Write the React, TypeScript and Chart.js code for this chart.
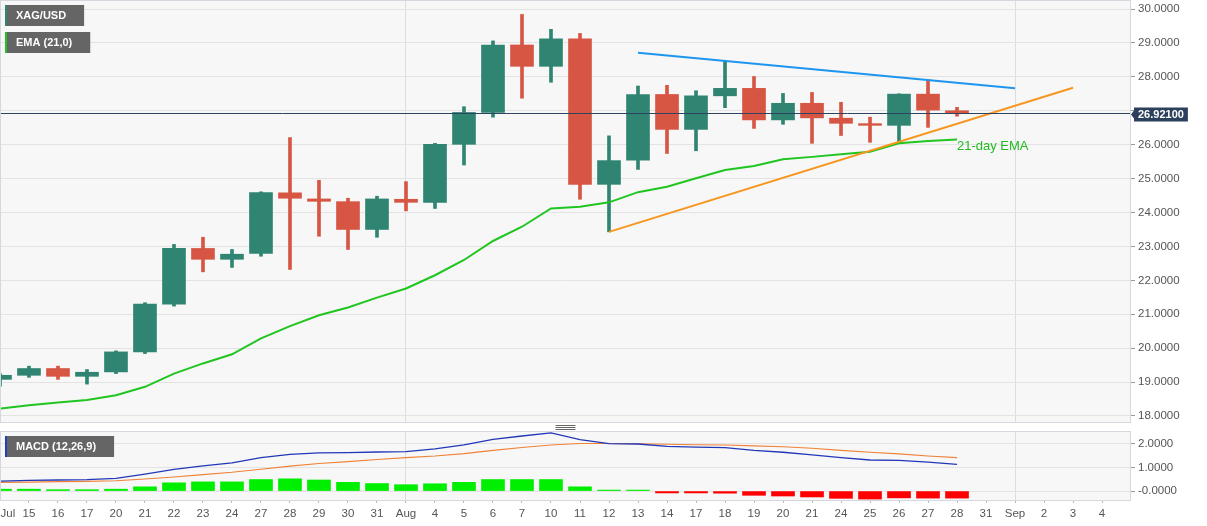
import React, { useEffect, useRef } from 'react';
import { Chart, registerables } from 'chart.js';

Chart.register(...registerables);

// ---------- data ----------
const DATE_LABELS = ['Jul', '15', '16', '17', '20', '21', '22', '23', '24', '27', '28', '29', '30', '31', 'Aug', '4', '5', '6', '7', '10', '11', '12', '13', '14', '17', '18', '19', '20', '21', '24', '25', '26', '27', '28', '31', 'Sep', '2', '3', '4'];

const OPEN = [19.08, 19.2, 19.4, 19.17, 19.3, 19.89, 21.3, 22.94, 22.62, 22.79, 24.58, 24.4, 24.32, 23.5, 24.39, 24.3, 26.01, 26.95, 28.94, 28.31, 29.12, 24.83, 25.54, 27.48, 26.45, 27.44, 27.66, 26.73, 27.22, 26.78, 26.62, 26.57, 27.49, 27.0];
const HIGH = [19.25, 19.47, 19.47, 19.37, 19.92, 21.34, 23.06, 23.27, 22.91, 24.61, 26.21, 24.95, 24.42, 24.48, 24.91, 26.04, 27.12, 29.06, 29.84, 29.4, 29.28, 26.26, 27.73, 27.75, 27.59, 28.47, 28.01, 27.51, 27.54, 27.25, 26.81, 27.5, 27.91, 27.1];
const LOW = [18.88, 19.14, 19.08, 18.94, 19.25, 19.84, 21.24, 22.25, 22.38, 22.71, 22.32, 23.3, 22.91, 23.27, 24.05, 24.12, 25.4, 26.81, 27.37, 27.84, 24.39, 23.43, 25.27, 25.74, 25.82, 27.09, 26.48, 26.6, 26.04, 26.27, 26.07, 26.09, 26.51, 26.84];
const CLOSE = [19.2, 19.4, 19.17, 19.29, 19.89, 21.3, 22.94, 22.62, 22.77, 24.59, 24.42, 24.33, 23.5, 24.4, 24.3, 26.01, 26.95, 28.94, 28.31, 29.12, 24.83, 25.53, 27.48, 26.45, 27.44, 27.66, 26.73, 27.22, 26.79, 26.63, 26.57, 27.49, 27.02, 26.921];
const EMA21 = [18.22, 18.32, 18.4, 18.47, 18.61, 18.86, 19.25, 19.55, 19.82, 20.29, 20.65, 20.97, 21.2, 21.49, 21.76, 22.15, 22.6, 23.16, 23.58, 24.12, 24.17, 24.3, 24.6, 24.76, 25.01, 25.25, 25.37, 25.57, 25.64, 25.72, 25.79, 26.04, 26.11, 26.15];

const RESISTANCE_X = [22, 35];
const RESISTANCE_Y = [28.71, 27.66];
const SUPPORT_X = [21, 37];
const SUPPORT_Y = [23.43, 27.68];

const PRICE_TICKS = [18, 19, 20, 21, 22, 23, 24, 25, 26, 27, 28, 29, 30];

const MACD_LINE = [0.42, 0.45, 0.47, 0.49, 0.54, 0.72, 0.92, 1.07, 1.2, 1.42, 1.56, 1.62, 1.63, 1.66, 1.68, 1.79, 1.96, 2.2, 2.34, 2.47, 2.19, 2.02, 2.0, 1.9, 1.87, 1.85, 1.73, 1.65, 1.54, 1.42, 1.32, 1.3, 1.23, 1.13];
const SIGNAL_LINE = [0.37, 0.38, 0.4, 0.41, 0.44, 0.51, 0.6, 0.7, 0.8, 0.93, 1.06, 1.17, 1.25, 1.34, 1.42, 1.49, 1.59, 1.73, 1.85, 1.96, 2.02, 2.02, 2.01, 1.99, 1.97, 1.96, 1.92, 1.88, 1.82, 1.73, 1.65, 1.58, 1.49, 1.42];
const MACD_HIST = [0.08, 0.08, 0.06, 0.06, 0.08, 0.18, 0.35, 0.39, 0.39, 0.49, 0.52, 0.47, 0.37, 0.32, 0.27, 0.31, 0.37, 0.49, 0.49, 0.49, 0.18, 0.01, 0.01, -0.08, -0.08, -0.09, -0.18, -0.21, -0.25, -0.31, -0.34, -0.29, -0.3, -0.3];
const MACD_TICKS = [0, 1, 2];
const MACD_TICK_LABELS = ['-0.0000', '1.0000', '2.0000'];

const SYMBOL_TAG = 'XAG/USD';
const EMA_TAG = 'EMA (21,0)';
const MACD_TAG = 'MACD (12,26,9)';
const EMA_NOTE = '21-day EMA';

// ---------- style ----------
const FONT = '"Liberation Sans", Arial, Helvetica, sans-serif';
const UP = '#2f8571';
const DOWN = '#d65643';
const PLOT_BG = '#f7f7f7';
const LAST_PRICE = CLOSE[CLOSE.length - 1];
const X_MIN = 0.035;
const X_MAX = 38.965;

const isMonth = (i: number) => {
  const l = DATE_LABELS[Math.round(i)];
  return l !== undefined && isNaN(Number(l));
};

function xScale(withTicks: boolean): any {
  return {
    type: 'linear',
    min: X_MIN,
    max: X_MAX,
    offset: false,
    bounds: 'data',
    afterBuildTicks: (s: any) => {
      s.ticks = DATE_LABELS.map((_, i) => ({ value: i }));
    },
    afterFit: (s: any) => {
      s.height = withTicks ? 26 : 0;
      s.paddingLeft = 0;
      s.paddingRight = 0;
    },
    ticks: { display: false, autoSkip: false },
    grid: {
      offset: false,
      color: (c: any) => (c.tick && isMonth(c.tick.value) ? '#dddddd' : 'rgba(0,0,0,0)'),
      lineWidth: 1,
      drawTicks: withTicks,
      tickLength: 3,
      tickColor: '#b8b8b8',
    },
    border: { display: false },
  };
}

function yScale(min: number, max: number, values: number[], label: (v: number, i: number) => string): any {
  return {
    position: 'right',
    min,
    max,
    bounds: 'data',
    afterBuildTicks: (s: any) => {
      s.ticks = values.map((v) => ({ value: v }));
    },
    afterFit: (s: any) => {
      s.width = 77;
      s.paddingTop = 0;
      s.paddingBottom = 0;
    },
    ticks: {
      autoSkip: false,
      callback: (v: any, i: number) => label(Number(v), i),
      color: '#555555',
      font: { family: FONT, size: 11.5 },
      padding: 3,
    },
    grid: { color: '#e3e3e3', lineWidth: 1, tickLength: 5, tickColor: '#9a9a9a' },
    border: { color: '#c9c9c9' },
  };
}

function drawTag(ctx: CanvasRenderingContext2D, x: number, y: number, text: string, accent: string) {
  ctx.save();
  ctx.font = 'bold 11px ' + FONT;
  const w = ctx.measureText(text).width + 29;
  const h = 21;
  ctx.fillStyle = '#656565';
  ctx.fillRect(x, y, w, h);
  ctx.fillStyle = accent;
  ctx.fillRect(x, y, 2, h);
  ctx.fillStyle = '#ffffff';
  ctx.textAlign = 'left';
  ctx.textBaseline = 'middle';
  ctx.fillText(text, x + 11, y + h / 2 + 0.5);
  ctx.restore();
}

function paintBackground(chart: any) {
  const { ctx, chartArea: a, width, height } = chart;
  ctx.save();
  ctx.fillStyle = '#ffffff';
  ctx.fillRect(0, 0, width, height);
  ctx.fillStyle = PLOT_BG;
  ctx.fillRect(a.left, a.top, a.right - a.left, a.bottom - a.top);
  ctx.restore();
}

function paintBorder(chart: any) {
  const { ctx, chartArea: a } = chart;
  ctx.save();
  ctx.strokeStyle = '#d5d7df';
  ctx.lineWidth = 1;
  ctx.strokeRect(a.left - 0.5, a.top - 0.5, a.right - a.left + 1, a.bottom - a.top + 1);
  ctx.restore();
}

const mainDecor = {
  id: 'mainDecor',
  beforeDraw: paintBackground,
  afterDatasetsDraw(chart: any) {
    const { ctx, chartArea: a, scales } = chart;
    const y = Math.round(scales.y.getPixelForValue(LAST_PRICE)) + 0.5;
    ctx.save();
    ctx.strokeStyle = '#2e4262';
    ctx.lineWidth = 1;
    ctx.beginPath();
    ctx.moveTo(0, y);
    ctx.lineTo(a.right, y);
    ctx.stroke();
    ctx.restore();
  },
  afterDraw(chart: any) {
    const { ctx, chartArea: a, scales } = chart;
    paintBorder(chart);
    drawTag(ctx, 5, 5, SYMBOL_TAG, UP);
    drawTag(ctx, 5, 32, EMA_TAG, '#22c322');

    // last price label
    const y = Math.round(scales.y.getPixelForValue(LAST_PRICE)) + 0.5;
    const text = LAST_PRICE.toFixed(5);
    ctx.save();
    ctx.font = 'bold 11px ' + FONT;
    const tw = ctx.measureText(text).width;
    const bx = a.right + 4;
    const bw = tw + 8;
    const bh = 14;
    const by = y + 1 - bh / 2;
    ctx.fillStyle = '#2c405e';
    ctx.beginPath();
    ctx.moveTo(a.right + 1, y + 1);
    ctx.lineTo(bx, by + 3);
    ctx.lineTo(bx, by + bh - 3);
    ctx.closePath();
    ctx.fill();
    ctx.fillRect(bx, by, bw, bh);
    ctx.fillStyle = '#ffffff';
    ctx.textAlign = 'left';
    ctx.textBaseline = 'middle';
    ctx.fillText(text, bx + 4, by + bh / 2 + 0.5);
    ctx.restore();

    // EMA annotation
    const li = EMA21.length - 1;
    const ex = scales.x.getPixelForValue(li);
    const ey = scales.y.getPixelForValue(EMA21[li]) + 7;
    ctx.save();
    ctx.font = '13px ' + FONT;
    ctx.fillStyle = '#22bb22';
    ctx.textAlign = 'left';
    ctx.textBaseline = 'middle';
    ctx.fillText(EMA_NOTE, ex, ey);
    ctx.restore();
  },
};

const macdDecor = {
  id: 'macdDecor',
  beforeDraw: paintBackground,
  afterDraw(chart: any) {
    const { ctx, chartArea: a, scales } = chart;
    paintBorder(chart);
    drawTag(ctx, 5, a.top + 4, MACD_TAG, '#1f3fbf');

    // panel grip
    const cx = (a.left + a.right) / 2;
    ctx.save();
    ctx.strokeStyle = '#666666';
    ctx.lineWidth = 1;
    for (let k = 0; k < 3; k++) {
      const gy = a.top - 7 + 2 * k + 0.5;
      ctx.beginPath();
      ctx.moveTo(cx - 10, gy);
      ctx.lineTo(cx + 10, gy);
      ctx.stroke();
    }
    ctx.restore();

    // date labels
    ctx.save();
    ctx.font = '11.5px ' + FONT;
    ctx.fillStyle = '#555555';
    ctx.textAlign = 'center';
    ctx.textBaseline = 'middle';
    DATE_LABELS.forEach((l, i) => {
      const w = ctx.measureText(l).width;
      const x = Math.max(scales.x.getPixelForValue(i), w / 2 + 0.5);
      ctx.fillText(l, x, a.bottom + 13.5);
    });
    ctx.restore();
  },
};

function mainConfig(): any {
  const colors = CLOSE.map((c, i) => (c >= OPEN[i] ? UP : DOWN));
  return {
    type: 'bar',
    data: {
      datasets: [
        {
          type: 'line',
          data: RESISTANCE_X.map((x, i) => ({ x, y: RESISTANCE_Y[i] })),
          borderColor: '#1e96f0',
          borderWidth: 2,
          pointRadius: 0,
        },
        {
          type: 'line',
          data: SUPPORT_X.map((x, i) => ({ x, y: SUPPORT_Y[i] })),
          borderColor: '#f7961e',
          borderWidth: 2,
          pointRadius: 0,
        },
        {
          type: 'line',
          data: EMA21.map((y, i) => ({ x: i, y })),
          borderColor: '#20c520',
          borderWidth: 2,
          pointRadius: 0,
          tension: 0,
        },
        {
          type: 'bar',
          data: OPEN.map((o, i) => ({ x: i, y: [o, CLOSE[i]] })),
          backgroundColor: colors,
          borderWidth: 0,
          barThickness: 23,
          grouped: false,
          minBarLength: 1,
        },
        {
          type: 'bar',
          data: LOW.map((l, i) => ({ x: i, y: [l, HIGH[i]] })),
          backgroundColor: colors,
          borderWidth: 0,
          barThickness: 3,
          grouped: false,
        },
      ],
    },
    options: {
      animation: false,
      responsive: false,
      maintainAspectRatio: false,
      devicePixelRatio: 1,
      events: [],
      layout: { padding: { left: 1, top: 1, right: 0, bottom: 2 } },
      plugins: { legend: { display: false }, tooltip: { enabled: false } },
      scales: {
        x: xScale(false),
        // the last-price tag hides the tick label it overlaps
        y: yScale(17.823, 30.236, PRICE_TICKS, (v) => (Math.abs(v - LAST_PRICE) < 0.45 ? '' : v.toFixed(4))),
      },
    },
    plugins: [mainDecor],
  };
}

function macdConfig(): any {
  return {
    type: 'bar',
    data: {
      datasets: [
        {
          type: 'line',
          data: MACD_LINE.map((y, i) => ({ x: i, y })),
          borderColor: '#2238b8',
          borderWidth: 1.3,
          pointRadius: 0,
        },
        {
          type: 'line',
          data: SIGNAL_LINE.map((y, i) => ({ x: i, y })),
          borderColor: '#f08238',
          borderWidth: 1.1,
          pointRadius: 0,
        },
        {
          type: 'bar',
          data: MACD_HIST.map((y, i) => ({ x: i, y })),
          backgroundColor: MACD_HIST.map((v) => (v >= 0 ? '#00ee00' : '#ff0000')),
          borderWidth: 0,
          barThickness: 23,
          grouped: false,
          minBarLength: 1,
        },
      ],
    },
    options: {
      animation: false,
      responsive: false,
      maintainAspectRatio: false,
      devicePixelRatio: 1,
      events: [],
      layout: { padding: { left: 1, top: 8, right: 0, bottom: 0 } },
      plugins: { legend: { display: false }, tooltip: { enabled: false } },
      scales: {
        x: xScale(true),
        y: yScale(-0.38, 2.51, MACD_TICKS, (_v, i) => MACD_TICK_LABELS[i]),
      },
    },
    plugins: [macdDecor],
  };
}

export default function App() {
  const mainRef = useRef<HTMLCanvasElement>(null);
  const macdRef = useRef<HTMLCanvasElement>(null);

  useEffect(() => {
    const main = new Chart(mainRef.current as HTMLCanvasElement, mainConfig());
    const macd = new Chart(macdRef.current as HTMLCanvasElement, macdConfig());
    return () => {
      main.destroy();
      macd.destroy();
    };
  }, []);

  return (
    <div style={{ position: 'absolute', left: 0, top: 0, width: 1207, height: 526, background: '#ffffff', overflow: 'hidden' }}>
      <canvas ref={mainRef} width={1207} height={424} style={{ position: 'absolute', left: 0, top: 0, width: 1207, height: 424 }} />
      <canvas ref={macdRef} width={1207} height={102} style={{ position: 'absolute', left: 0, top: 424, width: 1207, height: 102 }} />
    </div>
  );
}
